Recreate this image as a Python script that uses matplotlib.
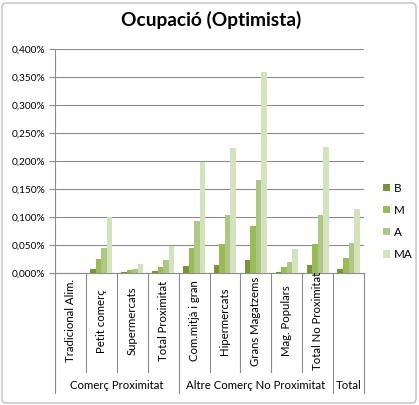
import numpy as np
import matplotlib
matplotlib.use("Agg")
import matplotlib.pyplot as plt
from matplotlib.patches import FancyBboxPatch

plt.rcParams['font.family'] = ['Lato', 'DejaVu Sans']

categories = ['Tradicional Alim.', 'Petit comerç', 'Supermercats', 'Total Proximitat',
              'Com.mitjà i gran', 'Hipermercats', 'Grans Magatzems', 'Mag. Populars',
              'Total No Proximitat', '']
groups = ['Comerç Proximitat', 'Altre Comerç No Proximitat', 'Total']
group_sizes = [4, 5, 1]

# valors en %
B = [0.0, 0.007, 0.002, 0.003, 0.012, 0.013, 0.023, 0.002, 0.013, 0.007]
M = [0.0, 0.024, 0.005, 0.011, 0.045, 0.051, 0.084, 0.010, 0.051, 0.026]
A = [0.0, 0.045, 0.007, 0.023, 0.092, 0.103, 0.166, 0.020, 0.103, 0.054]
MA = [0.0, 0.099, 0.016, 0.048, 0.198, 0.223, 0.359, 0.042, 0.225, 0.114]
series = [('B', B), ('M', M), ('A', A), ('MA', MA)]
colors = ['#77933C', '#9BBB59', '#AEC785', '#D4E2BD']
yticks = [0, 0.05, 0.1, 0.15, 0.2, 0.25, 0.3, 0.35, 0.4]

W, H = 419, 405
fig = plt.figure(figsize=(W / 100, H / 100), dpi=100)

# marc del gràfic
fig.patches.append(FancyBboxPatch((2 / W, 2 / H), 1 - 5 / W, 1 - 5 / H,
                                  boxstyle='round,pad=0,rounding_size=0.01',
                                  transform=fig.transFigure, fc='white',
                                  ec='#BFBFBF', lw=1, zorder=-10))

x0, x1, ytop, ybot = 55, 364, 49, 272.7
ax = fig.add_axes([x0 / W, (H - ybot) / H, (x1 - x0) / W, (ybot - ytop) / H])
ax.patch.set_alpha(0)

n = len(B)
x = np.arange(n)
w = 0.179
for k, (name, vals) in enumerate(series):
    ax.bar(x + (k - 1.5) * w, vals, w, color=colors[k], label=name, zorder=3)

ax.set_xlim(-0.5, n - 0.5)
ax.set_ylim(0, 0.4)
ax.set_yticks(yticks)
ax.set_yticklabels([('%.3f%%' % v).replace('.', ',') for v in yticks], fontsize=7.3)
ax.yaxis.grid(True, color='#8C8C8C', lw=0.8, zorder=0)
ax.set_axisbelow(True)
ax.set_xticks([])
for s in ['top', 'right']:
    ax.spines[s].set_visible(False)
ax.spines['left'].set_color('#8C8C8C')
ax.spines['bottom'].set_color('#8C8C8C')
ax.tick_params(axis='y', length=4, color='#8C8C8C', pad=3)


def fy(py):
    # pixel de la figura -> fracció de l'eix y
    return (ybot - py) / (ybot - ytop)


tr = ax.get_xaxis_transform()
bounds = list(np.cumsum([0] + group_sizes) - 0.5)
for i in range(n + 1):
    edge = i - 0.5
    bottom = 393 if edge in bounds else 372
    ax.plot([edge, edge], [0, fy(bottom)], transform=tr, color='#8C8C8C',
            lw=0.8, clip_on=False)

for i, c in enumerate(categories):
    if c:
        ax.text(i, fy(321), c, transform=tr, rotation=90, ha='center',
                va='center', fontsize=8.2)

start = 0
for g, size in zip(groups, group_sizes):
    ax.text(start + (size - 1) / 2, fy(385), g, transform=tr, ha='center',
            va='center', fontsize=8.2)
    start += size

fig.text(211 / W, 1 - 20 / H, 'Ocupació (Optimista)', ha='center', va='center',
         fontsize=13.8, fontweight='bold')

fig.legend(loc='upper left', bbox_to_anchor=(378 / W, 1 - 178 / H), frameon=False,
           fontsize=8.4, handlelength=0.6, handleheight=0.6, handletextpad=0.4,
           labelspacing=0.95, borderaxespad=0)

fig.savefig('out.png', dpi=100)
